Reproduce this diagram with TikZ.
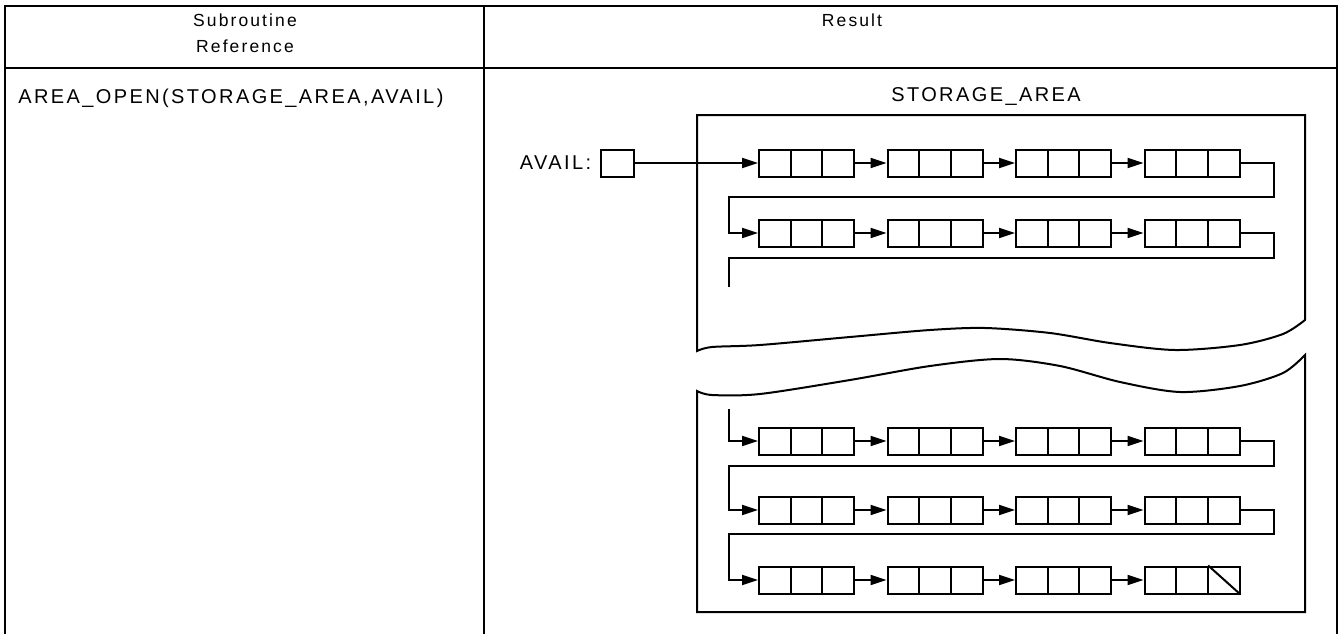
\documentclass[tikz,border=0pt]{standalone}
\usepackage{fontspec}
\setmainfont{Liberation Sans}[LetterSpace=12]
\usetikzlibrary{positioning,calc,arrows.meta}

\begin{document}
\begin{tikzpicture}[
  x=1pt,y=-1pt,
  line width=2pt,
  font=\fontsize{20}{22}\selectfont,
  head/.style={font=\fontsize{17.5}{19}\selectfont},
  rec/.style={draw,minimum width=95pt,minimum height=27pt,inner sep=0pt,
    path picture={\foreach \f in {1,2}
      \draw[line width=2pt] ($(path picture bounding box.north west)!\f/3!(path picture bounding box.north east)$)
        -- ($(path picture bounding box.south west)!\f/3!(path picture bounding box.south east)$);}},
  ptr/.style={draw,minimum width=33pt,minimum height=27pt,inner sep=0pt},
  link/.style={-{Triangle[length=16pt,width=10pt]}}
]
\fill[white] (0,0) rectangle (1339,634);
\useasboundingbox (0,0) rectangle (1339,634);

% table
\draw[line width=1.6pt] (5,634) -- (5,6) -- (1337,6) -- (1337,634);
\draw[line width=1.6pt] (5,68) -- (1337,68);
\draw[line width=1.6pt] (484,6) -- (484,634);
\node[head] (hsub) at (245,20) {Subroutine};
\node[head] (href) at (245,46) {Reference};
\node[head] (hres) at (852,20) {Result};
\node[anchor=west] (call) at (14,98) {AREA\_OPEN(STORAGE\_AREA,AVAIL)};

% storage area, cut in two
\node (stlabel) at (986,97) {STORAGE\_AREA};
\draw plot[smooth] coordinates {(697,351) (712,347) (760,345) (850,337) (930,330) (985,328)
  (1050,333) (1110,343) (1175,350) (1240,345) (1283,334) (1305,320)}
  -- (1305,115) -- (697,115) -- cycle;
\draw plot[smooth] coordinates {(697,391) (712,395) (760,394) (850,380) (930,366) (1000,359)
  (1060,366) (1120,382) (1180,392) (1240,386) (1283,373) (1305,355)}
  -- (1305,612) -- (697,612) -- cycle;

% free list
\node[ptr] (avail) at (617,163) {};
\node[left=4pt of avail] (availlabel) {AVAIL:};
\foreach \r/\y in {1/163,2/233,3/441,4/510,5/580}
  \foreach \c in {1,...,4}
    \node[rec] (n\r\c) at ({806.5+128.5*(\c-1)},\y) {};
\draw ($(n54.north west)!2/3!(n54.north east)$) -- (n54.south east);

\coordinate (turnR) at (1274,0);
\coordinate (turnL) at (729,0);
\coordinate (stubU) at (729,287);
\coordinate (stubL) at (729,409);

\draw[link] (avail) -- (n11);
\foreach \r in {1,...,5}
  \foreach \c/\e in {1/2,2/3,3/4}
    \draw[link] (n\r\c) -- (n\r\e);
\foreach \r/\s/\b in {1/2/197,3/4/466,4/5/534}
  \draw[link] (n\r4.east) -| ($(turnR)+(0,\b)$) -- ($(turnL)+(0,\b)$) |- (n\s1.west);
\draw (n24.east) -| ($(turnR)+(0,258)$) -- ($(turnL)+(0,258)$) -- (stubU);
\draw[link] (stubL) |- (n31.west);
\end{tikzpicture}
\end{document}
